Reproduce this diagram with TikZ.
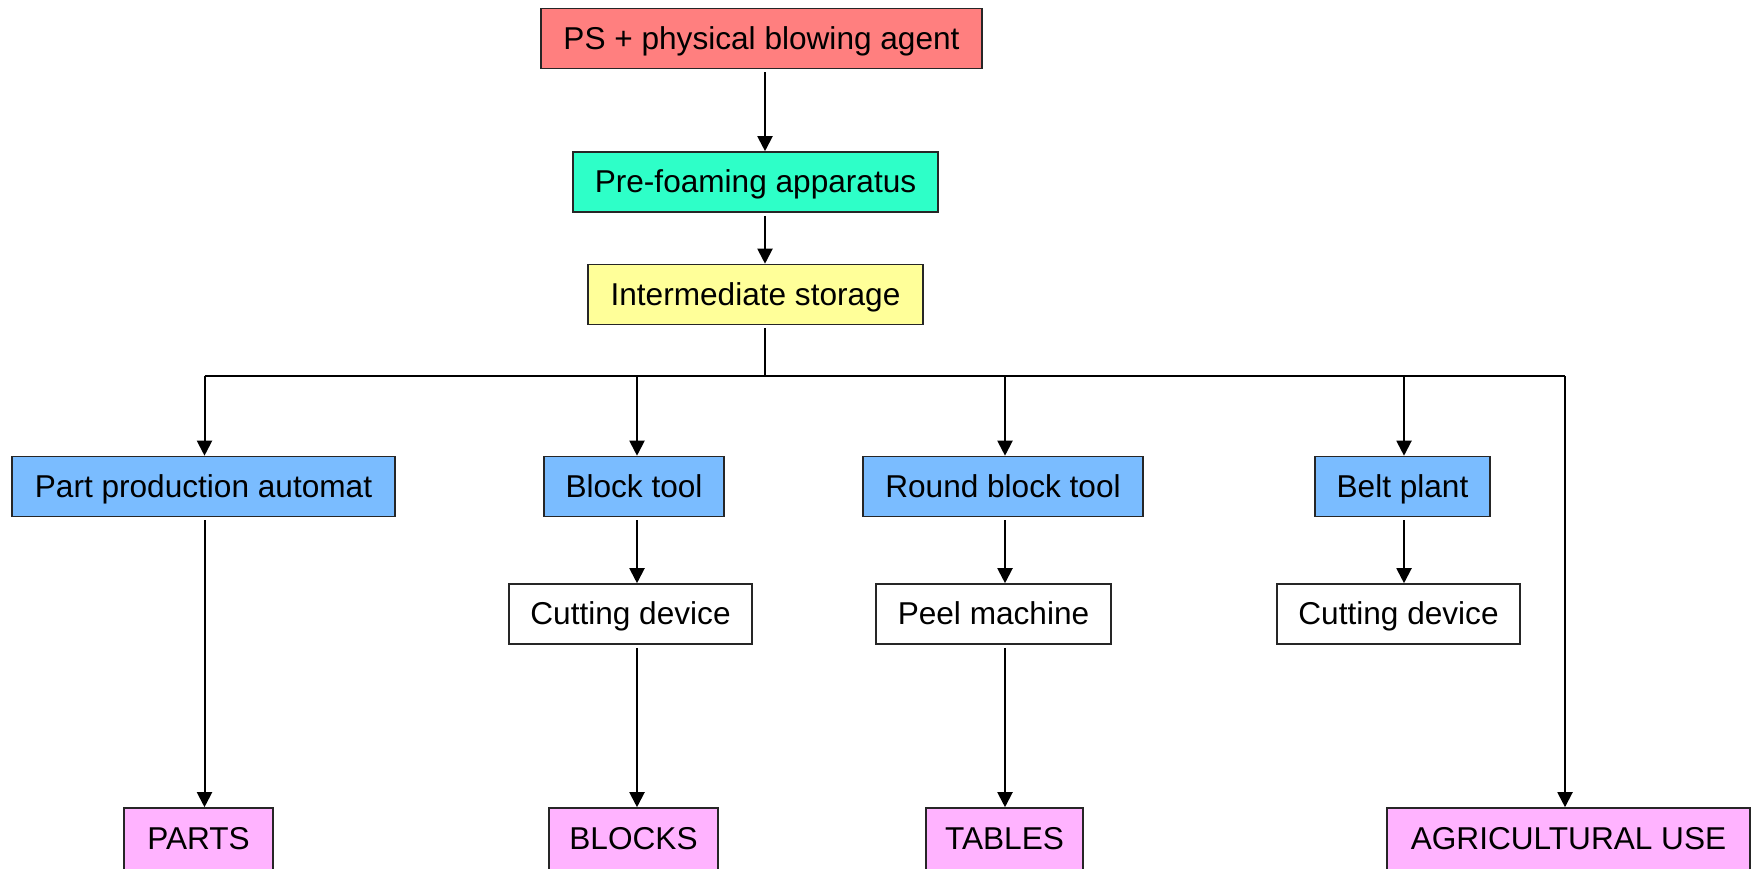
\documentclass[tikz,border=0pt]{standalone}
\usepackage{fontspec}
\setmainfont{Liberation Sans}
\usetikzlibrary{arrows.meta}
\definecolor{cps}{HTML}{FF7F7F}
\definecolor{cpre}{HTML}{2EFFC8}
\definecolor{cint}{HTML}{FFFF99}
\definecolor{cblue}{HTML}{7ABCFF}
\definecolor{cpink}{HTML}{FFB3FF}
\tikzset{
  box/.style={draw=black!85, line width=0.8pt, rectangle, inner sep=0pt,
    text height=11pt, text depth=0.2pt,
    minimum height=30pt, font=\fontsize{15.8}{18}\selectfont},
  arr/.style={line width=1pt, -{Triangle[length=7.5pt,width=7.5pt]}},
  ln/.style={line width=1pt}
}
\begin{document}
\begin{tikzpicture}[x=0.5pt,y=-0.5pt]
\useasboundingbox (0,0) rectangle (1760,868);
% nodes
\node[box, fill=cps, minimum width=220.5pt] (ps) at (761.5,38.5) {PS + physical blowing agent};
\node[box, fill=cpre, minimum width=182.5pt] (pre) at (755.5,182) {Pre-foaming apparatus};
\node[box, fill=cint, minimum width=167.5pt] (int) at (755.5,294.5) {Intermediate storage};
\node[box, fill=cblue, minimum width=191.5pt] (ppa) at (203.5,486.5) {Part production automat};
\node[box, fill=cblue, minimum width=90pt] (blk) at (634,486.5) {Block tool};
\node[box, fill=cblue, minimum width=140pt] (rbt) at (1003,486.5) {Round block tool};
\node[box, fill=cblue, minimum width=87.5pt] (belt) at (1402.5,486.5) {Belt plant};
\node[box, fill=white, minimum width=121.5pt] (cut1) at (630.5,614) {Cutting device};
\node[box, fill=white, minimum width=117.5pt] (peel) at (993.5,614) {Peel machine};
\node[box, fill=white, minimum width=121.5pt] (cut2) at (1398.5,614) {Cutting device};
\node[box, fill=cpink, minimum width=74.5pt, minimum height=31pt] (parts) at (198.5,839) {PARTS};
\node[box, fill=cpink, minimum width=84.5pt, minimum height=31pt] (blocks) at (633.5,839) {BLOCKS};
\node[box, fill=cpink, minimum width=78.5pt, minimum height=31pt] (tables) at (1004.5,839) {TABLES};
\node[box, fill=cpink, minimum width=181.5pt, minimum height=31pt] (agri) at (1568.5,839) {AGRICULTURAL USE};
% column coordinates
\coordinate (sp) at (765,0);
\coordinate (cA) at (204.5,376);
\coordinate (cB) at (637,376);
\coordinate (cC) at (1005,376);
\coordinate (cD) at (1404,376);
\coordinate (cE) at (1565,376);
\coordinate (bus) at (765,376);
% connectors
\draw[arr, shorten <=1.5pt] (ps.south -| sp) -- (pre.north -| sp);
\draw[arr, shorten <=1.5pt] (pre.south -| sp) -- (int.north -| sp);
\draw[ln, shorten <=1.5pt] (int.south -| sp) -- (bus);
\draw[ln] (cA) -- (cE);
\draw[arr] (cA) -- (ppa.north -| cA);
\draw[arr] (cB) -- (blk.north -| cB);
\draw[arr] (cC) -- (rbt.north -| cC);
\draw[arr] (cD) -- (belt.north -| cD);
\draw[arr] (cE) -- (agri.north -| cE);
\draw[arr, shorten <=1.5pt] (ppa.south -| cA) -- (parts.north -| cA);
\draw[arr, shorten <=1.5pt] (blk.south -| cB) -- (cut1.north -| cB);
\draw[arr, shorten <=1.5pt] (cut1.south -| cB) -- (blocks.north -| cB);
\draw[arr, shorten <=1.5pt] (rbt.south -| cC) -- (peel.north -| cC);
\draw[arr, shorten <=1.5pt] (peel.south -| cC) -- (tables.north -| cC);
\draw[arr, shorten <=1.5pt] (belt.south -| cD) -- (cut2.north -| cD);
\end{tikzpicture}
\end{document}
